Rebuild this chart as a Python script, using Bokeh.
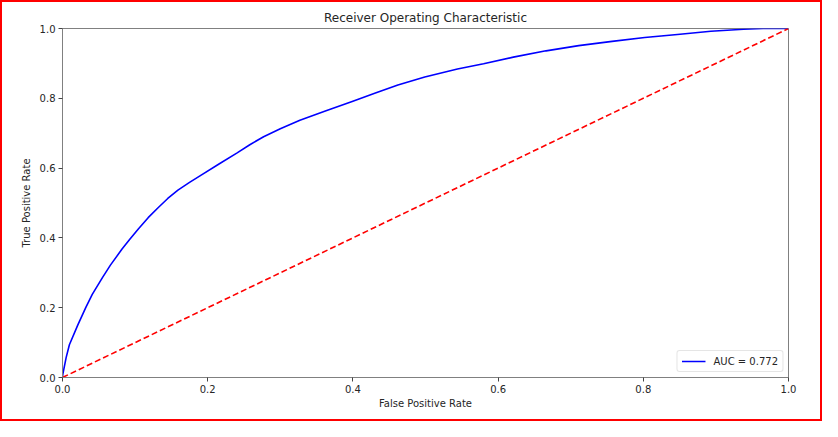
from bokeh.plotting import figure
from bokeh.models import Range1d, FixedTicker, PrintfTickFormatter, Legend, LegendItem
from bokeh.embed import file_html
from bokeh.resources import INLINE

# ROC curve
fpr = [0, 0.0005, 0.005, 0.0095, 0.021, 0.032, 0.041, 0.055, 0.066, 0.082, 0.093,
       0.105, 0.118, 0.132, 0.145, 0.159, 0.175, 0.191, 0.215, 0.240, 0.258, 0.277,
       0.300, 0.327, 0.363, 0.399, 0.431, 0.462, 0.499, 0.544, 0.580, 0.621, 0.666,
       0.711, 0.757, 0.802, 0.847, 0.893, 0.938, 0.965, 1.0]
tpr = [0, 0.010, 0.057, 0.094, 0.150, 0.200, 0.238, 0.286, 0.322, 0.368, 0.397,
       0.427, 0.458, 0.487, 0.513, 0.537, 0.559, 0.580, 0.611, 0.643, 0.667, 0.690,
       0.713, 0.737, 0.764, 0.791, 0.815, 0.838, 0.861, 0.884, 0.899, 0.918, 0.936,
       0.951, 0.963, 0.974, 0.983, 0.992, 0.998, 1.0, 1.0]
diag_x = [0, 1]
diag_y = [0, 1]
ticks = [0.0, 0.2, 0.4, 0.6, 0.8, 1.0]
auc_label = "AUC = 0.772"
title_text = "Receiver Operating Characteristic"
x_label = "False Positive Rate"
y_label = "True Positive Rate"

FONT = "DejaVu Sans"
TEXT = "#262626"
SPINE = "#808080"

p = figure(output_backend="svg", toolbar_location=None,
           width=822, height=421,
           min_border_left=60, min_border_right=36,
           min_border_top=26, min_border_bottom=46,
           x_range=Range1d(0, 1), y_range=Range1d(0, 1),
           title=title_text)
p.styles = {"border": "2px solid red"}

p.title.align = "center"
p.title.text_font = FONT
p.title.text_font_size = "12px"
p.title.text_font_style = "normal"
p.title.text_color = TEXT
p.title.standoff = 7

p.background_fill_color = "white"
p.border_fill_color = "white"
p.outline_line_color = SPINE
p.outline_line_width = 1
p.grid.visible = False

for ax, lab in ((p.xaxis, x_label), (p.yaxis, y_label)):
    ax.ticker = FixedTicker(ticks=ticks)
    ax.formatter = PrintfTickFormatter(format="%.1f")
    ax.axis_label = lab
    ax.axis_label_text_font = FONT
    ax.axis_label_text_font_size = "10px"
    ax.axis_label_text_font_style = "normal"
    ax.axis_label_text_color = TEXT
    ax.major_label_text_font = FONT
    ax.major_label_text_font_size = "10px"
    ax.major_label_text_color = TEXT
    ax.axis_line_color = SPINE
    ax.major_tick_line_color = "#444444"
    ax.major_tick_out = 4
    ax.major_tick_in = 0
    ax.minor_tick_line_color = None
    ax.major_label_standoff = 3
p.xaxis.axis_label_standoff = 2
p.yaxis.axis_label_standoff = 5

r_roc = p.line(fpr, tpr, line_color="#0000ff", line_width=1.6)
p.line(diag_x, diag_y, line_color="#ff0000", line_width=1.6, line_dash="6 3")

legend = Legend(items=[LegendItem(label=auc_label, renderers=[r_roc])],
                location="bottom_right")
legend.label_text_font = FONT
legend.label_text_font_size = "10px"
legend.label_text_color = TEXT
legend.border_line_color = "#cccccc"
legend.border_line_width = 1
legend.border_radius = 3
legend.background_fill_alpha = 0.8
legend.glyph_width = 24
legend.glyph_height = 12
legend.padding = 4
legend.margin = 5
legend.spacing = 0
legend.label_standoff = 8
legend.label_height = 12
p.add_layout(legend, "center")

open("out.html", "w").write(file_html(p, INLINE))
